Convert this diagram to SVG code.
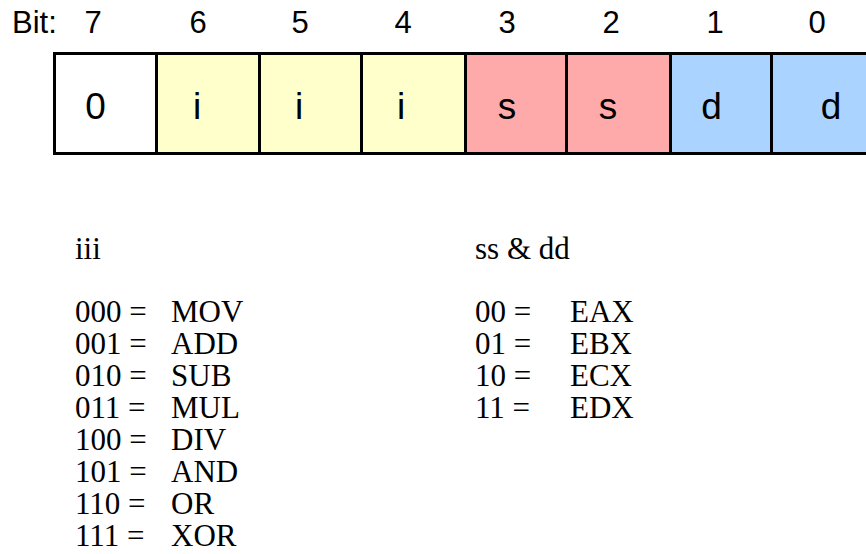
<svg xmlns="http://www.w3.org/2000/svg" width="866" height="554" viewBox="0 0 866 554">
<style>
.box{stroke:#000;stroke-width:3}
.y{fill:#ffffcc}.p{fill:#ffaaaa}.b{fill:#aad4ff}.w{fill:#fff}
.h{font-family:"Liberation Sans",Arial,Helvetica,sans-serif;font-size:31px;fill:#000}
.v{font-family:"Liberation Sans",Arial,Helvetica,sans-serif;font-size:37px;fill:#000;text-anchor:middle}
.c{text-anchor:middle}
.t{font-family:"Liberation Serif","Times New Roman",serif;font-size:31px;fill:#000}
</style>
<rect width="866" height="554" fill="#fff"/>
<g id="bit-labels" class="h">
<text x="12" y="33">Bit:</text>
<text class="c" x="93" y="33">7</text>
<text class="c" x="198" y="33">6</text>
<text class="c" x="300" y="33">5</text>
<text class="c" x="403" y="33">4</text>
<text class="c" x="507" y="33">3</text>
<text class="c" x="611" y="33">2</text>
<text class="c" x="715" y="33">1</text>
<text class="c" x="817" y="33">0</text>
</g>
<g id="bit7"><rect class="box w" x="54.5" y="53.5" width="102" height="100"/><text class="v" x="95.5" y="119">0</text></g>
<g id="bit6"><rect class="box y" x="156.5" y="53.5" width="103" height="100"/><text class="v" x="197" y="119">i</text></g>
<g id="bit5"><rect class="box y" x="259.5" y="53.5" width="102" height="100"/><text class="v" x="299" y="119">i</text></g>
<g id="bit4"><rect class="box y" x="361.5" y="53.5" width="104" height="100"/><text class="v" x="401" y="119">i</text></g>
<g id="bit3"><rect class="box p" x="465.5" y="53.5" width="101" height="100"/><text class="v" x="507" y="119">s</text></g>
<g id="bit2"><rect class="box p" x="566.5" y="53.5" width="104" height="100"/><text class="v" x="608" y="119">s</text></g>
<g id="bit1"><rect class="box b" x="670.5" y="53.5" width="101" height="100"/><text class="v" x="711.5" y="119">d</text></g>
<g id="bit0"><rect class="box b" x="771.5" y="53.5" width="120" height="100"/><text class="v" x="831" y="119">d</text></g>
<g id="connectors"></g>
<g id="iii-legend" class="t">
<text x="75" y="259">iii</text>
<text x="75" y="322">000 =</text><text x="171" y="322">MOV</text>
<text x="75" y="354">001 =</text><text x="171" y="354">ADD</text>
<text x="75" y="386">010 =</text><text x="171" y="386">SUB</text>
<text x="75" y="418">011 =</text><text x="171" y="418">MUL</text>
<text x="75" y="450">100 =</text><text x="171" y="450">DIV</text>
<text x="75" y="482">101 =</text><text x="171" y="482">AND</text>
<text x="75" y="514">110 =</text><text x="171" y="514">OR</text>
<text x="75" y="546">111 =</text><text x="171" y="546">XOR</text>
</g>
<g id="reg-legend" class="t">
<text x="475" y="259">ss &amp; dd</text>
<text x="475" y="322">00 =</text><text x="570" y="322">EAX</text>
<text x="475" y="354">01 =</text><text x="570" y="354">EBX</text>
<text x="475" y="386">10 =</text><text x="570" y="386">ECX</text>
<text x="475" y="418">11 =</text><text x="570" y="418">EDX</text>
</g>
</svg>
